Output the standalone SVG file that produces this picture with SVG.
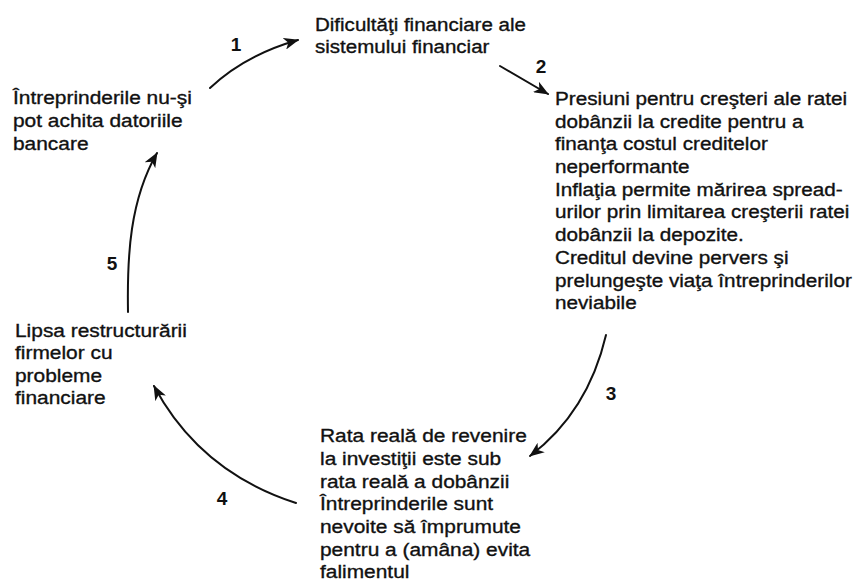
<svg xmlns="http://www.w3.org/2000/svg" width="858" height="582" viewBox="0 0 858 582">
  <style>
    .t { font-family: "Liberation Sans", Arial, sans-serif; font-size: 19px; fill: #111; stroke: #111; stroke-width: 0.35; }
    .n { font-family: "Liberation Sans", Arial, sans-serif; font-size: 19px; font-weight: bold; fill: #111; }
    .c { fill: none; stroke: #111; stroke-width: 2; stroke-linecap: round; }
  </style>
  <defs>
    <marker id="ah" markerUnits="userSpaceOnUse" markerWidth="16" markerHeight="12" refX="14" refY="6" orient="auto">
      <path d="M0,0 L15,6 L0,12 L4,6 Z" fill="#111"/>
    </marker>
  </defs>
  <rect width="858" height="582" fill="#fff"/>

  <g id="node-top" transform="translate(315,0) scale(1.08,1)">
    <text class="t" x="0" y="31">Dificultăţi financiare ale</text>
    <text class="t" x="0" y="53">sistemului financiar</text>
  </g>

  <g id="node-right" transform="translate(555,0) scale(1.09,1)">
    <text class="t" x="0" y="105">Presiuni pentru creşteri ale ratei</text>
    <text class="t" x="0" y="127.7">dobânzii la credite pentru a</text>
    <text class="t" x="0" y="150.4">finanţa costul creditelor</text>
    <text class="t" x="0" y="173.1">neperformante</text>
    <text class="t" x="0" y="195.8">Inflaţia permite mărirea spread-</text>
    <text class="t" x="0" y="218.5">urilor prin limitarea creşterii ratei</text>
    <text class="t" x="0" y="241.2">dobânzii la depozite.</text>
    <text class="t" x="0" y="263.9">Creditul devine pervers şi</text>
    <text class="t" x="0" y="286.6">prelungeşte viaţa întreprinderilor</text>
    <text class="t" x="0" y="309.3">neviabile</text>
  </g>

  <g id="node-bottom" transform="translate(320,0) scale(1.1,1)">
    <text class="t" x="0" y="442">Rata reală de revenire</text>
    <text class="t" x="0" y="465">la investiţii este sub</text>
    <text class="t" x="0" y="488">rata reală a dobânzii</text>
    <text class="t" x="0" y="510">Întreprinderile sunt</text>
    <text class="t" x="0" y="533">nevoite să împrumute</text>
    <text class="t" x="0" y="556">pentru a (amâna) evita</text>
    <text class="t" x="0" y="578">falimentul</text>
  </g>

  <g id="node-left-bottom" transform="translate(15,0) scale(1.1,1)">
    <text class="t" x="0" y="337">Lipsa restructurării</text>
    <text class="t" x="0" y="359.5">firmelor cu</text>
    <text class="t" x="0" y="382">probleme</text>
    <text class="t" x="0" y="404.5">financiare</text>
  </g>

  <g id="node-left-top" transform="translate(13,0) scale(1.1,1)">
    <text class="t" x="0" y="104">Întreprinderile nu-şi</text>
    <text class="t" x="0" y="127">pot achita datoriile</text>
    <text class="t" x="0" y="150">bancare</text>
  </g>

  <g id="connectors">
    <path class="c" d="M210,88 Q245,55 298,40" marker-end="url(#ah)"/>
    <path class="c" d="M500,66 L548,94" marker-end="url(#ah)"/>
    <path class="c" d="M606,335 Q588,412 530,456" marker-end="url(#ah)"/>
    <path class="c" d="M296,503 Q200,472 154,386" marker-end="url(#ah)"/>
    <path class="c" d="M128,312 C127,255 130,200 157,153" marker-end="url(#ah)"/>
    <text class="n" x="236" y="51" text-anchor="middle">1</text>
    <text class="n" x="541" y="73" text-anchor="middle">2</text>
    <text class="n" x="611" y="400" text-anchor="middle">3</text>
    <text class="n" x="222" y="505" text-anchor="middle">4</text>
    <text class="n" x="112" y="270" text-anchor="middle">5</text>
  </g>
</svg>
